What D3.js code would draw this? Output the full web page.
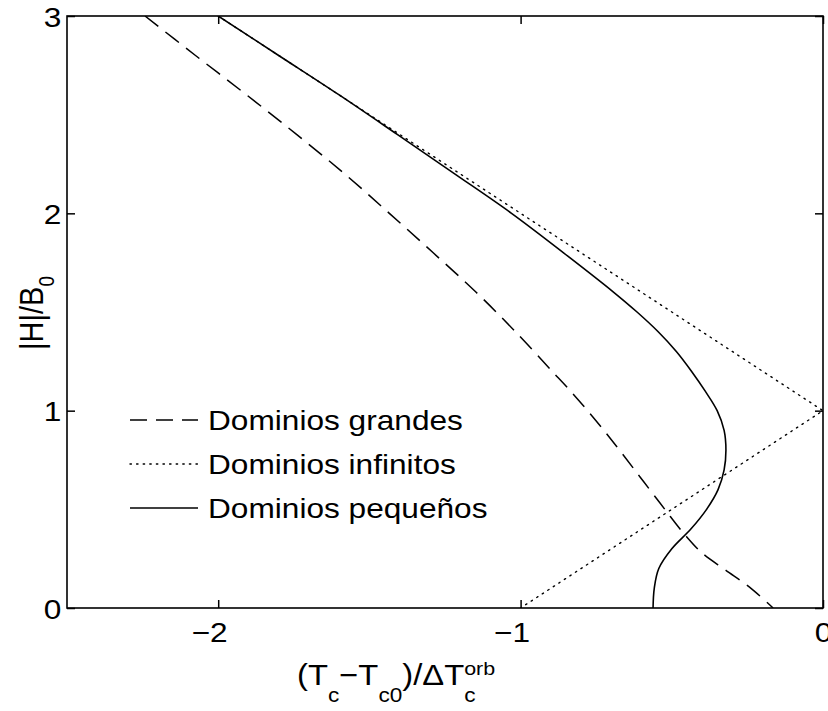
<!DOCTYPE html>
<html>
<head>
<meta charset="utf-8">
<script src="https://cdn.jsdelivr.net/npm/d3@7"></script>
<style>
  body { margin: 0; background: #fff; }
  svg { display: block; background: #fff; }
  text { font-family: "Liberation Sans", Arial, Helvetica, sans-serif; fill: #000; }
</style>
</head>
<body>
<svg id="chart" width="828" height="711"></svg>
<script>
// Field |H|/B0 against the reduced shift of the critical temperature

const xDomain = [-2.5, 0];
const yDomain = [0, 3];
const xTicks = [-2, -1, 0];
const xTickLabels = ["−2", "−1", "0"];
const yTicks = [0, 1, 2, 3];
const yTickLabels = ["0", "1", "2", "3"];

// Dominios grandes (dashed)
const grandesX = [-2.242, -2.075, -1.906, -1.741, -1.582, -1.434, -1.289, -1.147, -1.017, -0.896, -0.847, -0.761, -0.681, -0.605, -0.539, -0.496, -0.456, -0.400, -0.323, -0.243, -0.165];
const grandesY = [3.000, 2.800, 2.600, 2.400, 2.200, 2.000, 1.800, 1.600, 1.400, 1.200, 1.120, 0.968, 0.816, 0.664, 0.532, 0.446, 0.370, 0.279, 0.193, 0.106, 0.000];

// Dominios infinitos (dotted V)
const infinitosX = [-2, 0, -1];
const infinitosY = [3, 1, 0];

// Dominios pequeños (solid, re-entrant)
const pequenosX = [-2.000, -1.800, -1.600, -1.408, -1.218, -1.030, -0.858, -0.692, -0.615, -0.545, -0.485, -0.435, -0.390, -0.350, -0.327, -0.321, -0.327, -0.347, -0.385, -0.437, -0.500, -0.543, -0.558, -0.562];
const pequenosY = [3.000, 2.800, 2.600, 2.400, 2.200, 2.000, 1.800, 1.600, 1.500, 1.400, 1.300, 1.200, 1.100, 1.000, 0.900, 0.800, 0.700, 0.600, 0.500, 0.400, 0.300, 0.200, 0.100, 0.000];

const seriesNames = ["Dominios grandes", "Dominios infinitos", "Dominios pequeños"];

const W = 828, H = 711;
const margin = { top: 16, right: 5, bottom: 103, left: 67 };
const stretch = 1.13;   // text is set slightly wide

const svg = d3.select("#chart");
const x = d3.scaleLinear().domain(xDomain).range([margin.left, W - margin.right]);
const y = d3.scaleLinear().domain(yDomain).range([H - margin.bottom, margin.top]);

const toPts = (xs, ys) => xs.map((v, i) => [v, ys[i]]);
const series = [
  { name: seriesNames[0], pts: toPts(grandesX, grandesY), dash: "17,9", width: 1.5, curve: d3.curveCatmullRom.alpha(0.5), round: false },
  { name: seriesNames[1], pts: toPts(infinitosX, infinitosY), dash: "1.4,5.2", width: 1.4, curve: d3.curveLinear, round: true },
  { name: seriesNames[2], pts: toPts(pequenosX, pequenosY), dash: null, width: 1.6, curve: d3.curveCatmullRom.alpha(0.5), round: false }
];

svg.append("defs").append("clipPath").attr("id", "plotclip")
  .append("rect")
  .attr("x", margin.left).attr("y", margin.top)
  .attr("width", W - margin.left - margin.right)
  .attr("height", H - margin.top - margin.bottom);

// curves, drawn in the order dotted, dashed, solid
const plot = svg.append("g").attr("clip-path", "url(#plotclip)");
[series[1], series[0], series[2]].forEach(s => {
  const line = d3.line().x(d => x(d[0])).y(d => y(d[1])).curve(s.curve);
  plot.append("path")
    .attr("d", line(s.pts))
    .attr("fill", "none")
    .attr("stroke", "#000")
    .attr("stroke-width", s.width)
    .attr("stroke-dasharray", s.dash)
    .attr("stroke-linecap", s.round ? "round" : "butt");
});

// axes: ticks point inward on all four sides
const tickLen = 8;
const axB = d3.axisBottom(x).tickValues(xTicks).tickFormat((d, i) => xTickLabels[i])
  .tickSizeInner(-tickLen).tickSizeOuter(0).tickPadding(0);
const axT = d3.axisTop(x).tickValues(xTicks).tickFormat("")
  .tickSizeInner(-tickLen).tickSizeOuter(0);
const axL = d3.axisLeft(y).tickValues(yTicks).tickFormat((d, i) => yTickLabels[i])
  .tickSizeInner(-tickLen).tickSizeOuter(0).tickPadding(5);
const axR = d3.axisRight(y).tickValues(yTicks).tickFormat("")
  .tickSizeInner(-tickLen).tickSizeOuter(0);

const gB = svg.append("g").attr("transform", `translate(0,${H - margin.bottom})`).call(axB);
const gT = svg.append("g").attr("transform", `translate(0,${margin.top})`).call(axT);
const gL = svg.append("g").attr("transform", `translate(${margin.left},0)`).call(axL);
const gR = svg.append("g").attr("transform", `translate(${W - margin.right},0)`).call(axR);

[gB, gT, gL, gR].forEach(g => {
  g.select(".domain").remove();
  g.selectAll(".tick line").attr("stroke", "#000").attr("stroke-width", 1.5);
  g.attr("font-family", null).attr("font-size", null);
});

gB.selectAll(".tick text")
  .attr("y", 34).attr("dy", null)
  .attr("dx", d => d < 0 ? -8 : 0)
  .attr("transform", `scale(${stretch},1)`)
  .style("font-size", "28px");
gL.selectAll(".tick text")
  .attr("dy", "0.36em")
  .attr("transform", `scale(${stretch},1)`)
  .style("font-size", "28px");

// frame
svg.append("rect")
  .attr("x", margin.left).attr("y", margin.top)
  .attr("width", W - margin.left - margin.right)
  .attr("height", H - margin.top - margin.bottom)
  .attr("fill", "none").attr("stroke", "#000").attr("stroke-width", 1.6);

// x-axis label: (T_c − T_c0)/ΔT_c^orb
const xl = svg.append("g").attr("transform", `translate(297,685) scale(${stretch},1)`);
const xt = xl.append("text").style("font-size", "29px");
xt.append("tspan").text("(T");
xt.append("tspan").attr("dy", 17).style("font-size", "20px").text("c");
xt.append("tspan").attr("dy", -17).text("−T");
xt.append("tspan").attr("dy", 17).style("font-size", "20px").text("c0");
xt.append("tspan").attr("dy", -17).text(")/ΔT");
xt.append("tspan").attr("dy", -10).style("font-size", "19px").text("orb");
const orbStart = xt.node().getStartPositionOfChar(11).x;
xl.append("text").attr("x", orbStart).attr("y", 17).style("font-size", "20px").text("c");

// y-axis label: |H|/B_0
const yl = svg.append("g").attr("transform", `translate(43,313) scale(${stretch},1) rotate(-90)`);
const yt = yl.append("text").attr("text-anchor", "middle").style("font-size", "29px");
yt.append("tspan").text("|H|/B");
yt.append("tspan").attr("dy", 10).style("font-size", "19px").text("0");

// legend
const legend = svg.append("g");
series.forEach((s, i) => {
  const ly = 420 + i * 44;
  legend.append("line")
    .attr("x1", 130).attr("x2", 198).attr("y1", ly).attr("y2", ly)
    .attr("stroke", "#000").attr("stroke-width", s.width)
    .attr("stroke-dasharray", s.dash)
    .attr("stroke-linecap", s.round ? "round" : "butt");
  legend.append("g").attr("transform", `translate(208,${ly + 10}) scale(${stretch},1)`)
    .append("text").style("font-size", "28px").text(s.name);
});
</script>
</body>
</html>
